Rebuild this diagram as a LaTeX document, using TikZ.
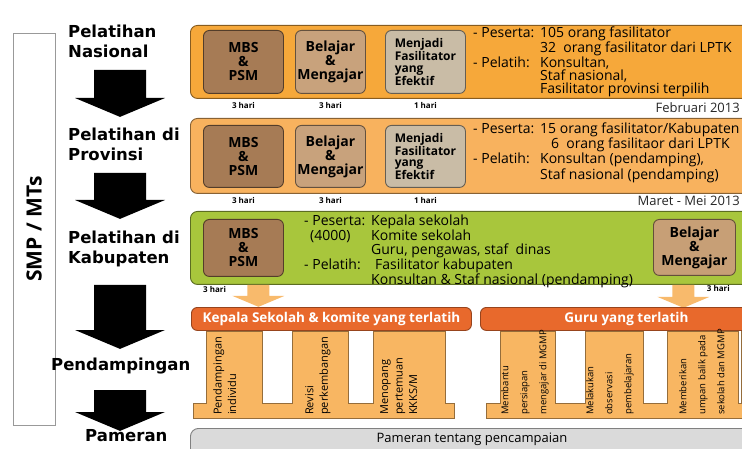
\documentclass[tikz,border=0pt]{standalone}
\usepackage{fontspec}
\setmainfont{Open Sans}
\newfontfamily\judulfont{DejaVu Sans}
\usepackage{xcolor}
\usepackage{tikz}
\usetikzlibrary{positioning}

\definecolor{bandnas}{HTML}{F6A83A}
\definecolor{bandprov}{HTML}{F8B25E}
\definecolor{bandkab}{HTML}{A8C63C}
\definecolor{boxtua}{HTML}{A67B55}
\definecolor{boxmuda}{HTML}{C8A27C}
\definecolor{boxabu}{HTML}{C9BCA6}
\definecolor{barjingga}{HTML}{E8692C}
\definecolor{tiangjingga}{HTML}{F8B662}
\definecolor{panahjingga}{HTML}{F8BA6C}
\definecolor{pameranabu}{HTML}{DADADA}

\newcommand{\kolom}[1]{\makebox[67pt][l]{#1}}

\tikzset{
  pics/panah/.style n args={3}{code={%
    \fill[pic actions] (-#2,0) -- (#2,0) -- (#2,#1) -- (#3,#1) -- (0,#1+0.42*#3) -- (-#3,#1) -- (-#2,#1) -- cycle;}},
}

\begin{document}
\begin{tikzpicture}[x=1pt, y=-1pt,
  tahap/.style={anchor=north west, align=left, inner sep=0pt, font=\judulfont\fontsize{16.5}{20}\selectfont\bfseries},
  band/.style={draw=#1!55!black, fill=#1, line width=0.9pt, rounded corners=7pt, anchor=north west, inner sep=0pt, minimum width=600pt},
  topik/.style={draw=#1!50!black, fill=#1, line width=0.9pt, rounded corners=6pt, anchor=north west, inner sep=0pt, align=center, font=\fontsize{14}{14}\selectfont\bfseries},
  hari/.style={font=\fontsize{8}{8}\selectfont\bfseries, inner sep=0pt},
  ket/.style={anchor=north west, align=left, inner sep=0pt, font=\fontsize{14}{13}\selectfont},
  judul/.style={draw=barjingga!65!black, fill=barjingga, line width=0.9pt, rounded corners=6pt, anchor=north west, minimum height=23pt, inner sep=0pt, text=white, font=\fontsize{13.5}{13.5}\selectfont\bfseries},
  tiang/.style={fill=tiangjingga, draw=tiangjingga!60!black, line width=0.8pt},
  isi/.style={rotate=90, anchor=north west, align=left, inner sep=0pt},
]
\useasboundingbox (0,0) rectangle (742,449);
\clip (0,0) rectangle (742,449);

% left column
\node[draw=black!40, line width=0.8pt, rotate=90, minimum width=392pt, minimum height=42pt, inner sep=0pt, font=\fontsize{21}{21}\selectfont\bfseries] (smp) at (34,229) {SMP / MTs};
\node[tahap] (lnas) at (68,25) {Pelatihan\\Nasional};
\node[tahap] (lprov) at (68,128) {Pelatihan di\\Provinsi};
\node[tahap] (lkab) at (68,231) {Pelatihan di\\Kabupaten};
\node[tahap] (lpend) at (51,358) {Pendampingan};
\node[tahap] (lpam) at (85,429) {Pameran};
\pic[fill=black] at (120,70) {panah={28}{26}{45}};
\pic[fill=black] at (120,173) {panah={27}{26}{45}};
\pic[fill=black] at (120,285) {panah={45}{26}{45}};
\pic[fill=black] at (120,390) {panah={22}{26}{45}};

% Nasional
\node[band=bandnas, minimum height=73pt] (nas) at (190,25) {};
\node[topik=boxtua, minimum width=80pt, minimum height=63pt] (nas-mbs) at (203,30) {MBS\\\&\\PSM};
\node[topik=boxmuda, minimum width=70pt, minimum height=63pt] (nas-bm) at (295,30) {Belajar\\\&\\Mengajar};
\node[topik=boxabu, minimum width=80pt, minimum height=63pt, align=left, font=\fontsize{12}{11.5}\selectfont\bfseries] (nas-fas) at (385,30) {Menjadi\\Fasilitator\\yang\\Efektif};
\node[hari, below=8pt of nas-mbs] {3 hari};
\node[hari, below=8pt of nas-bm] {3 hari};
\node[hari, below=8pt of nas-fas] {1 hari};
\node[ket] (nas-ket) at (473,27) {\kolom{- Peserta:}105 orang fasilitator\\
  \kolom{}32\ \ orang fasilitator dari LPTK\\
  \kolom{- Pelatih:}Konsultan,\\
  \kolom{}Staf nasional,\\
  \kolom{}Fasilitator provinsi terpilih};
\node[anchor=east, inner sep=0pt, font=\fontsize{13}{13}\selectfont, text=black!85] (feb) at (740,108) {Februari 2013};

% Provinsi
\node[band=bandprov, minimum height=75pt] (prov) at (190,118) {};
\node[topik=boxtua, minimum width=80pt, minimum height=62pt] (prov-mbs) at (203,125) {MBS\\\&\\PSM};
\node[topik=boxmuda, minimum width=70pt, minimum height=62pt] (prov-bm) at (295,125) {Belajar\\\&\\Mengajar};
\node[topik=boxabu, minimum width=80pt, minimum height=62pt, align=left, font=\fontsize{12}{11.5}\selectfont\bfseries] (prov-fas) at (385,125) {Menjadi\\Fasilitator\\yang\\Efektif};
\node[hari, below=9pt of prov-mbs] {3 hari};
\node[hari, below=9pt of prov-bm] {3 hari};
\node[hari, below=9pt of prov-fas] {1 hari};
\node[ket, font=\fontsize{14}{13.5}\selectfont] (prov-ket) at (473,123) {\kolom{- Peserta:}15 orang fasilitator/Kabupaten\\
  \kolom{}\hspace{11pt}6\ \ orang fasilitaor dari LPTK\\
  \kolom{- Pelatih:}Konsultan (pendamping),\\
  \kolom{}Staf nasional (pendamping)};
\node[anchor=east, inner sep=0pt, font=\fontsize{13}{13}\selectfont, text=black!85] (mar) at (740,201) {Maret - Mei 2013};

% Kabupaten
\node[band=bandkab, minimum height=73pt] (kab) at (190,211) {};
\node[topik=boxtua, minimum width=80pt, minimum height=57pt] (kab-mbs) at (203,219) {MBS\\\&\\PSM};
\node[topik=boxmuda!90!brown, minimum width=82pt, minimum height=56pt] (kab-bm) at (653,219) {Belajar\\\&\\Mengajar};
\node[hari, below right=9pt and 0pt of kab-mbs.south west] {3 hari};
\node[hari, below left=9pt and 6pt of kab-bm.south east] {3 hari};
\node[ket, font=\fontsize{14}{13.5}\selectfont] (kab-ket) at (304,215) {\kolom{- Peserta:}Kepala sekolah\\
  \kolom{\hspace{6pt}(4000)}Komite sekolah\\
  \kolom{}Guru, pengawas, staf\ \ dinas\\
  \kolom{- Pelatih:}\hspace{4pt}Fasilitator kabupaten\\
  \kolom{}Konsultan \& Staf nasional (pendamping)};
\pic[fill=panahjingga] at ([xshift=15pt]kab-mbs.south |- kab.south) {panah={11}{11}{26}};
\pic[fill=panahjingga] at ([xshift=-11pt]kab-bm.south |- kab.south) {panah={12}{11}{26}};

% Pendampingan
\node[judul, minimum width=280pt] (kepala) at (191,307) {Kepala Sekolah \& komite yang terlatih};
\node[judul, minimum width=292pt] (guru) at (480,307) {Guru yang terlatih};
\draw[tiang] (193,418) -- (193,403) -- (206,403) -- (206,331) -- (262,331) -- (262,403) -- (292,403) -- (292,331) -- (348,331) -- (348,403) -- (373,403) -- (373,331) -- (445,331) -- (445,403) -- (454,403) -- (454,418) -- cycle;
\draw[tiang] (486,418) -- (486,403) -- (500,403) -- (500,331) -- (555,331) -- (555,403) -- (585,403) -- (585,331) -- (643,331) -- (643,403) -- (667,403) -- (667,331) -- (738,331) -- (738,403) -- (741,403) -- (741,331) -- (760,331) -- (760,418) -- cycle;
\node[isi, font=\fontsize{11}{14.5}\selectfont] (t1) at (213,415) {Pendampingan\\individu};
\node[isi, font=\fontsize{11}{14.5}\selectfont] (t2) at (305,415) {Revisi\\perkembangan};
\node[isi, font=\fontsize{11}{14.5}\selectfont] (t3) at (380,415) {Menopang\\pertemuan\\KKKS/M};
\node[isi, font=\fontsize{9.5}{19}\selectfont] (t4) at (501,415) {Membantu\\persiapan\\mengajar di MGMP};
\node[isi, font=\fontsize{9.5}{19}\selectfont] (t5) at (586,415) {Melakukan\\observasi\\pembelajaran};
\node[isi, font=\fontsize{9.5}{19}\selectfont] (t6) at (679,415) {Memberikan\\umpan balik pada\\sekolah dan MGMP};

% Pameran
\node[draw=black!50, fill=pameranabu, line width=0.9pt, rounded corners=8pt, anchor=north west, inner sep=0pt, minimum width=600pt, minimum height=28pt] (pam) at (190,428) {};
\node[inner sep=0pt, font=\fontsize{13}{13}\selectfont] (pam-teks) at (472,439) {Pameran tentang pencampaian};
\end{tikzpicture}
\end{document}
